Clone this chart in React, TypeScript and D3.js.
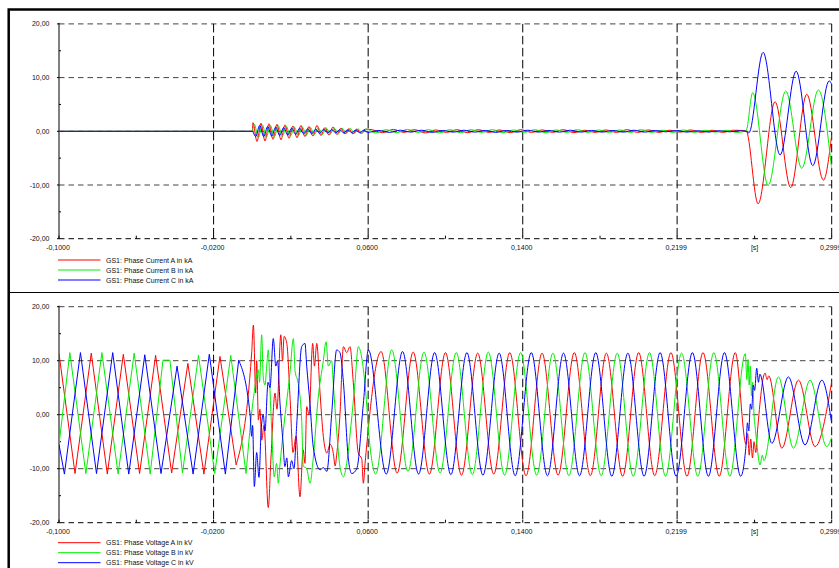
import React from 'react';
import * as d3 from 'd3';

// ---------- axis definitions (time in ms, values in kA / kV) ----------
const xTickValues = [-100, -20, 60, 140, 219.9, 299.9];
const xTickLabels = ['-0,1000', '-0,0200', '0,0600', '0,1400', '0,2199', '0,2999'];
const xMinorTicks = [-60, 20, 100, 180, 260];
const xUnitTick = 260;
const xUnitLabel = '[s]';
const yTickValues = [20, 10, 0, -10, -20];
const yTickLabels = ['20,00', '10,00', '0,00', '-10,00', '-20,00'];
const yMinorTicks = [15, 5, -5, -15];

const currentLegend = [
  'GS1: Phase Current A in kA',
  'GS1: Phase Current B in kA',
  'GS1: Phase Current C in kA',
];
const voltageLegend = [
  'GS1: Phase Voltage A in kV',
  'GS1: Phase Voltage B in kV',
  'GS1: Phase Voltage C in kV',
];
const phaseColors = ['#ff0000', '#00ee00', '#0000ff'];

// ---------- currents ----------
const curPre: [number, number][] = [[-100, 0], [0, 0]];
// burst oscillation extremes after switching
const curBurstStart = [0.4, 1.1, 1.8];
const curBurstStep = 2.07;
const curBurstA = [1.6, -1.9, 1.5, -1.8, 1.4, -1.5, 1.3, -1.6, 1.2, -1.3, 1.0, -1.2, 1.1, -1.0, 0.9, -0.9, 1.1, -0.8, 0.7, -0.7, 0.8, -0.6, 0.6, -0.5, 0.5, -0.5, 0.45, -0.4, 0.4];
const curBurstB = [1.3, -1.2, 1.2, -1.1, 1.1, -1.0, 1.0, -0.9, 0.9, -0.9, 0.8, -0.8, 0.8, -0.7, 0.7, -0.6, 0.7, -0.6, 0.6, -0.5, 0.6, -0.5, 0.5, -0.4, 0.5, -0.4, 0.4, -0.35, 0.4];
const curBurstC = [-1.0, 1.1, -1.0, 0.9, -0.9, 0.8, -0.8, 0.7, -0.7, 0.6, -0.6, 0.6, -0.5, 0.5, -0.5, 0.4, -0.4, 0.4, -0.35, 0.35, -0.3, 0.3, -0.3, 0.3, -0.25, 0.25, -0.25, 0.2, -0.2];
// small residual ripple until the fault
const curRippleStart = [62, 63.8, 65.6];
const curRippleStep = 5.5;
const curRippleA = [0.3, -0.25, 0.35, -0.2, 0.3, -0.3, 0.25, -0.2, 0.3, -0.25, 0.3, -0.2, 0.25, -0.25, 0.3, -0.2, 0.25, -0.2, 0.3, -0.25, 0.2, -0.2, 0.25, -0.2, 0.3, -0.2, 0.25, -0.2, 0.2, -0.15, 0.25, -0.2, 0.2, -0.2, 0.2];
const curRippleB = [-0.3, 0.3, -0.25, 0.35, -0.2, 0.3, -0.3, 0.3, -0.25, 0.3, -0.2, 0.3, -0.25, 0.25, -0.2, 0.3, -0.25, 0.25, -0.2, 0.3, -0.2, 0.25, -0.2, 0.25, -0.2, 0.3, -0.2, 0.2, -0.2, 0.25, -0.2, 0.2, -0.15, 0.2, -0.2];
const curRippleC = [0.15, -0.2, 0.2, -0.15, 0.2, -0.2, 0.15, -0.15, 0.2, -0.15, 0.15, -0.2, 0.15, -0.15, 0.2, -0.15, 0.15, -0.15, 0.2, -0.15, 0.15, -0.15, 0.15, -0.15, 0.2, -0.15, 0.15, -0.1, 0.15, -0.15, 0.1, -0.15, 0.1, -0.1, 0.1];
// fault currents
const curFaultA: [number, number][] = [[255.6, 0.1], [261.8, -13.5], [270.6, 5.5], [278.7, -10.5], [287.0, 6.9], [295.6, -9.1], [299.9, -0.7]];
const curFaultB: [number, number][] = [[255.6, 0.1], [259.0, 7.2], [267.0, -10.1], [276.1, 7.5], [284.4, -6.9], [293.0, 7.7], [299.9, -7.0]];
const curFaultC: [number, number][] = [[255.6, 0], [257.0, -0.3], [264.4, 14.7], [273.2, -4.4], [281.5, 11.2], [290.1, -6.4], [298.6, 9.4], [299.9, 8.8]];

// ---------- voltages ----------
const voltA: [number, number][] = [
  [-100, 11.3], [-91.7, -10.9], [-83.3, 11.4], [-75, -11.0], [-66.7, 11.2], [-58.3, -10.9], [-50, 11.0], [-41.7, -10.8], [-33.3, 9.5], [-25, -11.0], [-16.7, 10.8], [-8.3, -9.3],
  [-0.3, 11.4], [0.6, 16.6], [1.8, 4], [2.3, 10], [3.2, -1], [4.0, 1], [4.9, -4.7], [6.1, -2], [8.3, -17.2], [9.7, -8], [11.8, 4], [12.8, 1], [14.8, 14.8], [15.7, 10], [16.5, 14.5], [17.9, 13.2], [19.6, 3], [21.1, -7], [22.7, -4], [24.7, -15.2], [26.4, -6.5], [27.3, -9], [28.2, 1.5], [29.4, 0], [31.3, 13.2], [32.2, 9], [33.4, 13.2], [35.1, 4], [36.8, -4], [38.6, -7.1], [40.3, -5.5], [42.0, -7.2], [42.9, -9.5], [43.7, -7.5], [45.4, 0], [47.2, 12.6], [48.9, 11.5], [50.6, 12.6], [52.3, 6], [54.9, -7.1], [56.7, -8.2], [57.5, -12.7], [58.4, -9],
  [66.7, 11.7], [75, -10.8], [83.3, 11.6], [91.7, -11.0], [100, 11.5], [108.3, -11.2], [116.7, 11.4], [125, -11.0], [133.3, 11.5], [141.7, -11.3], [150, 11.4], [158.3, -11.2], [166.7, 11.5], [175, -11.3], [183.3, 11.4], [191.7, -11.4], [200, 11.5], [208.3, -11.3], [216.7, 11.5], [225, -11.4], [233.3, 11.5], [241.7, -11.4], [250, 11.5],
  [255.6, -5.5], [256.4, -3.5], [257.2, -7.5], [258.0, -4.5], [258.9, -8], [259.7, -5], [260.6, -7], [261.5, -3], [265.4, 7.7], [266.5, 6.5], [267.3, 7.2], [274.1, -6.2], [282.7, 6.4], [291.3, -5.9], [299.9, 6.1],
];
const voltB: [number, number][] = [
  [-100, -5.5], [-94.4, 11.5], [-86.1, -10.9], [-77.8, 11.5], [-69.4, -11.0], [-61.1, 11.4], [-52.8, -11.0], [-46.2, 10.1], [-42.6, 10.1], [-36.1, -10.8], [-27.8, 11.0], [-19.4, -10.9], [-11.1, 11.0], [-3.2, -10.9],
  [0.6, 3], [3.2, 8.3], [3.8, 6], [4.9, 14.8], [5.7, 7], [6.6, 5.5], [7.5, 9], [8.3, 12], [9.2, 4.5], [10.1, -3], [11.4, -11.5], [12.6, -9], [13.5, -12.7], [14.3, -9.5], [16.1, -3], [19.6, 8], [21.3, 14.1], [22.2, 8], [23.7, 6], [25.6, -1], [26.4, -9.5], [28.2, -10], [29.9, -12.7], [31.6, -8], [34.1, 3], [36.8, 10], [38.2, 13.5], [39.4, 9], [41.1, 10], [42.0, 5.5], [43.7, -3], [45.4, -9.6], [47.2, -11.5], [48.9, -9], [51.1, -2], [53.2, 6], [54.9, 12.6], [56.7, 10.5], [58.4, 5.5], [61.0, -6], [63.9, -11.0],
  [72.2, 12.0], [80.6, -10.5], [88.9, 11.6], [97.2, -10.8], [105.6, 11.5], [113.9, -11.1], [122.2, 11.6], [130.6, -11.2], [138.9, 11.5], [147.2, -11.2], [155.6, 11.4], [163.9, -11.3], [172.2, 11.5], [180.6, -11.3], [188.9, 11.4], [197.2, -11.4], [205.6, 11.5], [213.9, -11.4], [222.2, 11.4], [230.6, -11.4], [238.9, 11.5], [247.2, -11.4], [255.2, 11.3],
  [256.0, 6.5], [256.6, 10.2], [257.2, 5.5], [257.8, 9], [258.4, 3.5], [259.0, 6], [259.7, 0], [260.5, -3], [261.2, -5.5], [262.8, -9.3], [264, -7.5], [264.8, -8.5], [272.3, 7], [280.1, -6.2], [288.7, 6.4], [297.3, -5.9], [299.9, -4.2],
];
const voltC: [number, number][] = [
  [-100, -5.5], [-97.2, -11.0], [-88.9, 11.5], [-80.6, -10.9], [-72.2, 11.5], [-63.9, -11.0], [-55.6, 11.1], [-47.2, -10.9], [-38.9, 9.0], [-30.6, -11.0], [-22.2, 11.2], [-13.9, -11.0], [-7.0, 10.1],
  [-1.1, 0], [-0.3, -4], [0.2, -2], [1.1, -13.3], [2.3, -7], [3.5, -11.6], [4.6, -3], [5.7, 0], [6.6, -3], [8.2, 6], [9.2, 5], [10.9, 14.1], [12.2, 9], [13.1, 10], [14.4, 2], [15.9, -5], [16.9, -9.6], [17.9, -8], [18.7, -11.5], [20.4, -8.5], [21.6, -10], [23.0, -2], [25.6, 12.6], [27.3, 13.2], [28.2, 9], [29.9, 2], [31.6, -6], [35.1, -10.2], [36.8, -9.8], [38.6, -10.5], [41.1, 0], [43.7, 12], [45.4, 11.5], [47.2, 6], [49.7, -8], [51.5, -10.9], [54.1, -10], [57.5, 2], [60.1, 12],
  [69.4, -11.0], [77.8, 11.7], [86.1, -11.0], [94.4, 11.5], [102.8, -11.1], [111.1, 11.5], [119.4, -11.2], [127.8, 11.4], [136.1, -11.3], [144.4, 11.5], [152.8, -11.3], [161.1, 11.4], [169.4, -11.3], [177.8, 11.5], [186.1, -11.4], [194.4, 11.4], [202.8, -11.4], [211.1, 11.5], [219.4, -11.4], [227.8, 11.5], [236.1, -11.4], [244.4, 11.5], [252.8, -11.4],
  [255.6, -5.5], [256.3, -1.5], [257.0, -3], [257.8, 2], [258.5, 1], [259.3, 5.5], [260.0, 4.5], [261.1, 8.6], [262.0, 6], [262.7, 7.5], [268.9, -5.3], [277.5, 7], [286.1, -5.6], [294.8, 6.4], [299.9, -1.6],
];

function buildCurrent(
  burstStart: number, burst: number[], rippleStart: number, ripple: number[], fault: [number, number][]
): [number, number][] {
  const pts: [number, number][] = [...curPre];
  burst.forEach((v, i) => pts.push([burstStart + i * curBurstStep, v]));
  ripple.forEach((v, i) => pts.push([rippleStart + i * curRippleStep, v]));
  return pts.concat(fault);
}

const currents = [
  buildCurrent(curBurstStart[0], curBurstA, curRippleStart[0], curRippleA, curFaultA),
  buildCurrent(curBurstStart[1], curBurstB, curRippleStart[1], curRippleB, curFaultB),
  buildCurrent(curBurstStart[2], curBurstC, curRippleStart[2], curRippleC, curFaultC),
];
const voltages = [voltA, voltB, voltC];

const FONT = '"Liberation Sans", Arial, sans-serif';

export default function App() {
  const x = d3.scaleLinear().domain([-100, 299.9]).range([59, 831.7]);
  const panels = [
    { key: 'cur', y: d3.scaleLinear().domain([-20, 20]).range([238.7, 23.9]), series: currents, legend: currentLegend, labelY: 250.3, legendY: 260, splitPre: false },
    { key: 'volt', y: d3.scaleLinear().domain([-20, 20]).range([522.7, 306.7]), series: voltages, legend: voltageLegend, labelY: 533.5, legendY: 542.7, splitPre: true },
  ];
  const x0 = x(-100);
  const x1 = x(299.9);

  return (
    <svg width={839} height={568} style={{ position: 'absolute', left: 0, top: 0, background: '#fff' }}>
      <rect x={0} y={0} width={839} height={568} fill="#fff" />
      {/* outer frame */}
      <rect x={8.7} y={9.5} width={900} height={700} fill="none" stroke="#000" strokeWidth={2.5} />
      <line x1={8} x2={839} y1={292.5} y2={292.5} stroke="#000" strokeWidth={1} />
      {panels.map((p) => {
        const yTop = p.y(20);
        const yBot = p.y(-20);
        const clipId = `clip-${p.key}`;
        return (
          <g key={p.key}>
            <defs>
              <clipPath id={clipId}>
                <rect x={x0} y={yTop - 2} width={x1 - x0} height={yBot - yTop + 4} />
              </clipPath>
            </defs>
            {/* horizontal grid */}
            {yTickValues.map((v) => (
              <line key={`h${v}`} x1={x0} x2={x1} y1={p.y(v)} y2={p.y(v)}
                stroke={v === -20 ? '#000' : '#444'} strokeWidth={1} strokeDasharray="5.5,4" />
            ))}
            {/* vertical grid */}
            {xTickValues.slice(1).map((t) => (
              <line key={`v${t}`} x1={x(t)} x2={x(t)} y1={yTop} y2={yBot}
                stroke="#000" strokeWidth={1} strokeDasharray="8.5,3.5" />
            ))}
            {/* left axis */}
            <line x1={x0} x2={x0} y1={yTop - 1} y2={yBot} stroke="#000" strokeWidth={1} />
            {yTickValues.map((v) => (
              <line key={`yt${v}`} x1={x0 - 2} x2={x0} y1={p.y(v)} y2={p.y(v)} stroke="#000" strokeWidth={1} />
            ))}
            {yMinorTicks.map((v) => (
              <line key={`ym${v}`} x1={x0} x2={x0 + 2} y1={p.y(v)} y2={p.y(v)} stroke="#000" strokeWidth={1} />
            ))}
            {xMinorTicks.map((t) => (
              <line key={`xm${t}`} x1={x(t)} x2={x(t)} y1={yBot} y2={yBot - 3} stroke="#000" strokeWidth={1} />
            ))}
            {xTickValues.map((t) => (
              <line key={`xt${t}`} x1={x(t)} x2={x(t)} y1={yBot} y2={yBot - 3} stroke="#000" strokeWidth={1} />
            ))}
            {/* y labels */}
            {yTickValues.map((v, i) => (
              <text key={`yl${v}`} x={49.5} y={p.y(v) + 2.5} textAnchor="end" fontFamily={FONT} fontSize={7} fill="#111">
                {yTickLabels[i]}
              </text>
            ))}
            {/* x labels */}
            {xTickValues.map((t, i) => (
              <text key={`xl${t}`} x={x(t) - 1} y={p.labelY} textAnchor="middle" fontFamily={FONT} fontSize={7} fill="#111">
                {xTickLabels[i]}
              </text>
            ))}
            <text x={x(xUnitTick)} y={p.labelY} textAnchor="middle" fontFamily={FONT} fontSize={7} fill="#111">{xUnitLabel}</text>
            {/* series */}
            <g clipPath={`url(#${clipId})`}>
              {p.series.map((pts, si) => {
                const line = d3.line<[number, number]>().x((d) => x(d[0])).y((d) => p.y(d[1]));
                const paths: string[] = [];
                if (p.splitPre) {
                  const idx = pts.findIndex((d) => d[0] > -2);
                  const pre = pts.slice(0, idx);
                  const post = pts.slice(idx - 1);
                  paths.push(line.curve(d3.curveLinear)(pre) || '');
                  paths.push(line.curve(d3.curveMonotoneX)(post) || '');
                } else {
                  paths.push(line.curve(d3.curveMonotoneX)(pts) || '');
                }
                return paths.map((d, k) => (
                  <path key={`s${si}-${k}`} d={d} fill="none" stroke={phaseColors[si]} strokeWidth={1} strokeLinejoin="round" />
                ));
              })}
            </g>
            {/* legend */}
            {p.legend.map((label, i) => (
              <g key={`lg${i}`}>
                <line x1={58} x2={100.5} y1={p.legendY + i * 10} y2={p.legendY + i * 10} stroke={phaseColors[i]} strokeWidth={1} />
                <text x={106} y={p.legendY + i * 10 + 2.5} fontFamily={FONT} fontSize={7} fill="#111">{label}</text>
              </g>
            ))}
          </g>
        );
      })}
    </svg>
  );
}
